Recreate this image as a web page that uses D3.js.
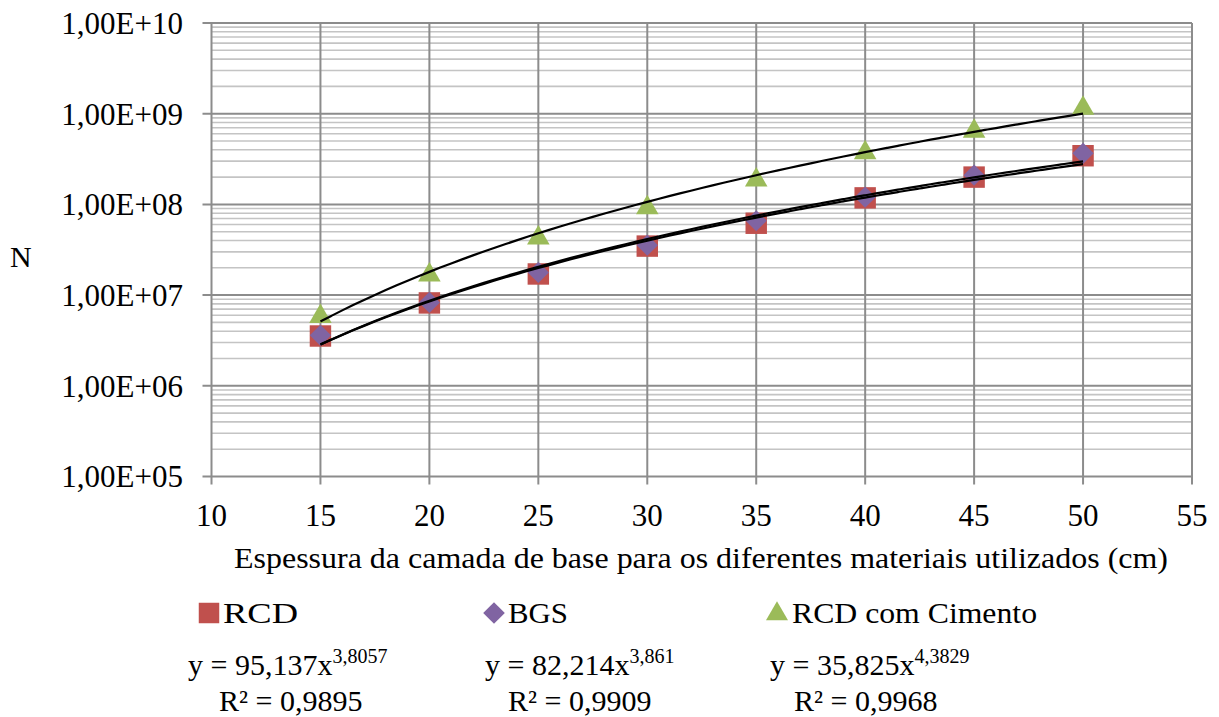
<!DOCTYPE html>
<html><head><meta charset="utf-8">
<script src="https://cdn.jsdelivr.net/npm/d3@7"></script>
<style>body{margin:0;background:#fff}svg{display:block}text{font-family:"Liberation Serif","Tinos","Times New Roman","DejaVu Serif",serif;fill:#000}</style>
</head><body>
<svg id="c" width="1219" height="717"></svg>
<script>
const xValues = [15, 20, 25, 30, 35, 40, 45, 50];
const rcd = [3.54e6, 8.2e6, 1.71e7, 3.47e7, 6.2e7, 1.18e8, 2.0e8, 3.44e8];
const bgs = [3.6e6, 8.3e6, 1.78e7, 3.55e7, 6.6e7, 1.2e8, 2.1e8, 3.66e8];
const cimento = [5.8e6, 1.67e7, 4.27e7, 9.2e7, 1.86e8, 3.7e8, 6.4e8, 1.15e9];
const seriesNames = ["RCD", "BGS", "RCD com Cimento"];
const trendA = [95.137, 82.214, 35.825];
const trendB = [3.8057, 3.861, 4.3829];
const eqA = ["95,137", "82,214", "35,825"];
const eqB = ["3,8057", "3,861", "4,3829"];
const r2 = ["0,9895", "0,9909", "0,9968"];
const xTicks = [10, 15, 20, 25, 30, 35, 40, 45, 50, 55];
const yTicks = [1e5, 1e6, 1e7, 1e8, 1e9, 1e10];
const yTickLabels = ["1,00E+05", "1,00E+06", "1,00E+07", "1,00E+08", "1,00E+09", "1,00E+10"];
const xTitle = "Espessura da camada de base para os diferentes materiais utilizados (cm)";
const yTitle = "N";

const colors = ["#C0504D", "#8064A2", "#9BBB59"];
const svg = d3.select("#c");
const L = 211.5, R = 1192, T = 23, B = 476.5;
const x = d3.scaleLinear().domain([10, 55]).range([L, R]);
const y = d3.scaleLog().domain([1e5, 1e10]).range([B, T]);

const minor = [];
for (let e = 5; e < 10; e++) for (let m = 2; m <= 9; m++) minor.push(m * Math.pow(10, e));
svg.append("g").selectAll("line").data(minor).join("line")
  .attr("x1", L).attr("x2", R).attr("y1", d => y(d)).attr("y2", d => y(d))
  .attr("stroke", "#c4c4c4").attr("stroke-width", 1.6);
svg.append("g").selectAll("line").data(yTicks).join("line")
  .attr("x1", L - 9).attr("x2", R).attr("y1", d => y(d)).attr("y2", d => y(d))
  .attr("stroke", "#8c8c8c").attr("stroke-width", 2);
svg.append("g").selectAll("line").data(xTicks).join("line")
  .attr("x1", d => x(d)).attr("x2", d => x(d)).attr("y1", T).attr("y2", B + 8)
  .attr("stroke", "#8c8c8c").attr("stroke-width", 2);

svg.append("g").selectAll("text").data(yTicks).join("text")
  .attr("x", 183).attr("y", d => y(d)).attr("dy", "0.35em").attr("text-anchor", "end")
  .attr("font-size", 31).text((d, i) => yTickLabels[i]);
svg.append("g").selectAll("text").data(xTicks).join("text")
  .attr("x", d => x(d)).attr("y", 526).attr("text-anchor", "middle")
  .attr("font-size", 31).text(d => d);
svg.append("text").attr("x", 234).attr("y", 568)
  .attr("font-size", 30).attr("textLength", 934).attr("lengthAdjust", "spacingAndGlyphs").text(xTitle);
svg.append("text").attr("x", 10).attr("y", 267).attr("font-size", 30).text(yTitle);

const data = [rcd, bgs, cimento];
const symTypes = [d3.symbolSquare, d3.symbolSquare, d3.symbolTriangle];
const sizes = [460, 225, 220];
const extra = ["", " rotate(45)", ""];
data.forEach((vals, si) => {
  svg.append("g").selectAll("path").data(vals).join("path")
    .attr("d", d3.symbol().type(symTypes[si]).size(sizes[si]))
    .attr("transform", (d, i) => `translate(${x(xValues[i])},${y(d)})` + extra[si])
    .attr("fill", colors[si]);
});

const line = d3.line().x(d => x(d[0])).y(d => y(d[1])).curve(d3.curveBasis);
trendA.forEach((a, si) => {
  const pts = d3.range(15, 50.01, 0.5).map(v => [v, a * Math.pow(v, trendB[si])]);
  svg.append("path").attr("d", line(pts)).attr("fill", "none")
    .attr("stroke", "#000").attr("stroke-width", 2.2);
});

const legX = [198, 483, 766];
const legTextX = [223, 508, 792];
const legSizes = [420, 235, 210];
const legTextLen = [75, 60, 245];
seriesNames.forEach((n, i) => {
  const cx = legX[i] + 11, cy = 613;
  svg.append("path").attr("d", d3.symbol().type(symTypes[i]).size(legSizes[i]))
    .attr("transform", `translate(${cx},${cy + (i === 2 ? 1 : 0)})` + extra[i])
    .attr("fill", colors[i]);
  svg.append("text").attr("x", legTextX[i]).attr("y", 623).attr("font-size", 30)
    .attr("textLength", legTextLen[i]).attr("lengthAdjust", "spacingAndGlyphs").text(n);
});
const eqX = [188, 485, 770];
const r2X = [219, 508, 794];
eqA.forEach((a, i) => {
  const t = svg.append("text").attr("x", eqX[i]).attr("y", 675).attr("font-size", 30);
  t.append("tspan").text(`y = ${a}x`);
  t.append("tspan").attr("font-size", 20).attr("dy", -12).text(eqB[i]);
  svg.append("text").attr("x", r2X[i]).attr("y", 711).attr("font-size", 30).text(`R² = ${r2[i]}`);
});
</script>
</body></html>
